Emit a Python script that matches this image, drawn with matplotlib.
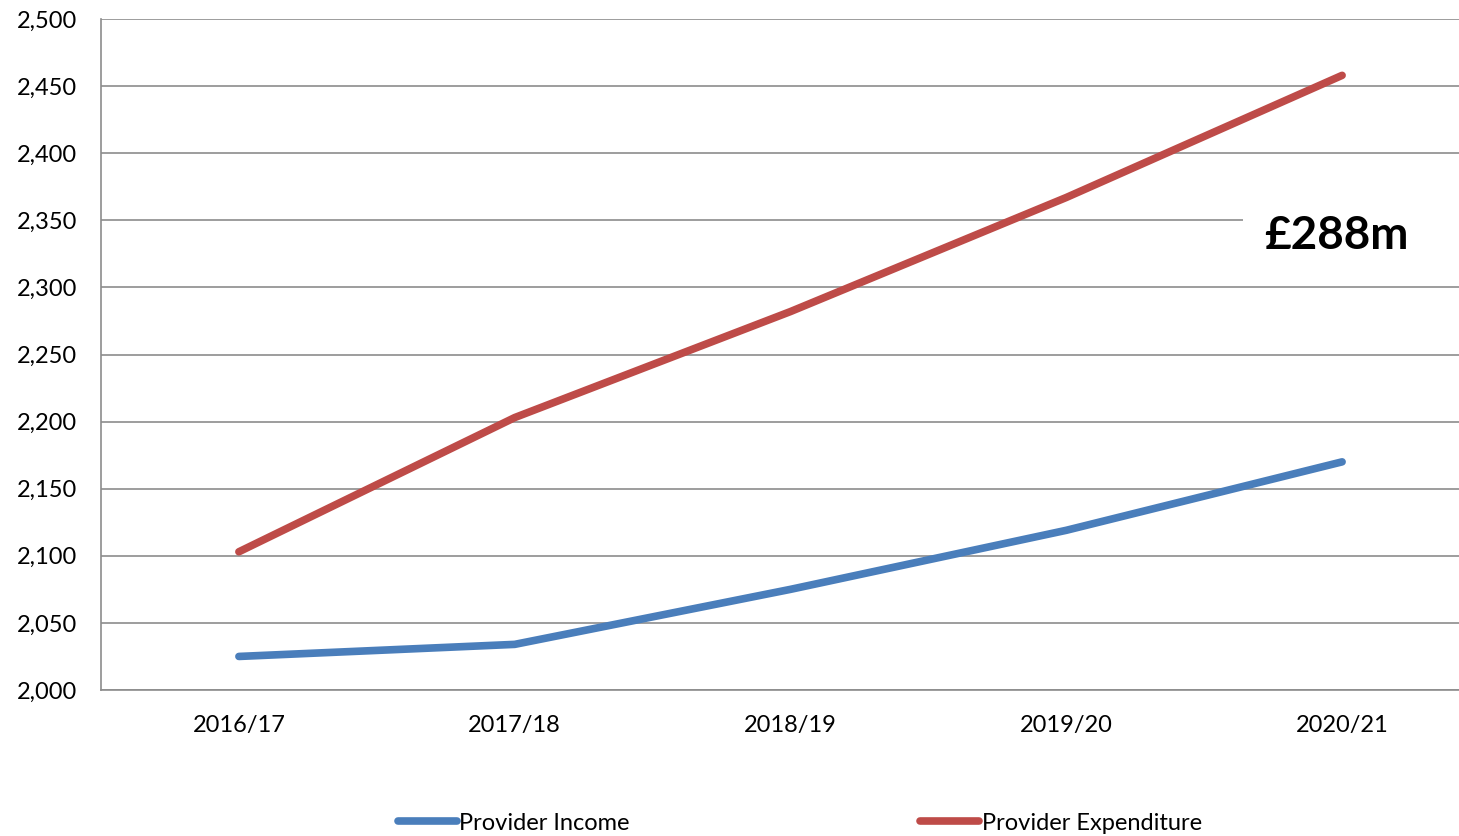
import matplotlib
matplotlib.use("Agg")
import matplotlib.pyplot as plt
from matplotlib.patches import Rectangle

years = ["2016/17", "2017/18", "2018/19", "2019/20", "2020/21"]
income = [2025, 2034, 2075, 2119, 2170]
expenditure = [2103, 2203, 2282, 2367, 2458]
gap_label = "£288m"

plt.rcParams['font.family'] = ['Lato', 'DejaVu Sans']

fig = plt.figure(figsize=(14.59, 8.36), dpi=100)
ax = fig.add_axes([101/1459, 1-690/836, 1379/1459, 671/836])

x = range(len(years))
ax.plot(x, income, color='#4a7ebb', lw=5.5, solid_capstyle='round', label="Provider Income", zorder=3)
ax.plot(x, expenditure, color='#be4b48', lw=5.5, solid_capstyle='round', label="Provider Expenditure", zorder=3)

ax.set_xlim(-0.5, len(years) - 0.5)
ax.set_ylim(2000, 2500)
ax.set_yticks(range(2000, 2501, 50))
ax.set_yticklabels([f"{v:,}" for v in range(2000, 2501, 50)])
ax.set_xticks(list(x))
ax.set_xticklabels(years)
ax.tick_params(axis='both', length=0, labelsize=17)
ax.tick_params(axis='y', pad=17)
ax.tick_params(axis='x', pad=18)

ax.grid(axis='y', color='#8c8c8c', lw=1.2)
for s in ['top', 'right']:
    ax.spines[s].set_visible(False)
for s in ['left', 'bottom']:
    ax.spines[s].set_color('#8c8c8c')
    ax.spines[s].set_linewidth(1.2)

# white box behind the label that hides the 2,350 gridline
ax.add_patch(Rectangle((3.64, 2308), 1.5, 85, facecolor='white', edgecolor='none', zorder=1.8))
ax.text(3.98, 2338, gap_label, ha='center', va='center', fontsize=33, fontweight='bold', zorder=4)

fig.legend(loc='center', bbox_to_anchor=(800/1459, 1-823/836), ncol=2, frameon=False,
           fontsize=17, handlelength=2.5, handletextpad=0.1, columnspacing=12.3)

fig.savefig("out.png", dpi=100)
